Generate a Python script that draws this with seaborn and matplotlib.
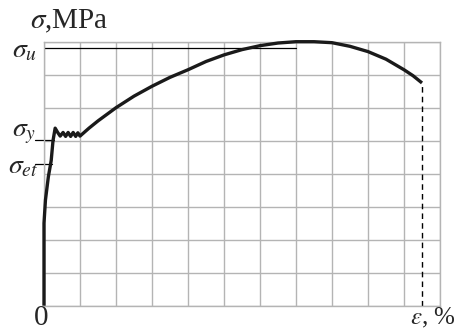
import numpy as np
import pandas as pd
import matplotlib
matplotlib.use("Agg")
import matplotlib.pyplot as plt
import seaborn as sns

# stress-strain curve in grid units (x: 11 cells, y: 8 cells)
strain = [0.0, 0.0, 0.04, 0.12, 0.2, 0.25, 0.31, 0.38, 0.45,
          0.53, 0.6, 0.67, 0.74, 0.81, 0.88, 0.94, 1.0,
          1.25, 1.5, 1.75, 2.0, 2.5, 3.0, 3.5, 4.0, 4.5, 5.0, 5.5, 6.0,
          6.5, 7.0, 7.5, 8.0, 8.5, 9.0, 9.5, 10.0, 10.25, 10.5]
stress = [0.0, 2.5, 3.2, 3.9, 4.4, 5.0, 5.38, 5.25, 5.14,
          5.25, 5.13, 5.25, 5.13, 5.25, 5.13, 5.24, 5.14,
          5.38, 5.6, 5.8, 6.0, 6.35, 6.65, 6.92, 7.15, 7.4, 7.6, 7.76, 7.88,
          7.96, 8.0, 8.0, 7.97, 7.86, 7.7, 7.47, 7.15, 6.97, 6.75]

sigma_u = 7.81
sigma_u_end = 7.0
sigma_y = 5.02
sigma_et = 4.3
rupture_strain = 10.5
rupture_stress = 6.75

curve = pd.DataFrame({"strain": strain, "stress": stress})

sns.set_style("white")
plt.rcParams["font.family"] = ["Liberation Serif", "DejaVu Serif"]
plt.rcParams["mathtext.fontset"] = "stix"

fig = plt.figure(figsize=(4.66, 3.31), dpi=100)
ax = fig.add_axes([44 / 466, 1 - 305.7 / 331, 396 / 466, 264 / 331])

grid_col = "#b4b4b4"
for gx in range(0, 12):
    ax.axvline(gx, color=grid_col, lw=1.0, zorder=0)
for gy in range(0, 9):
    ax.axhline(gy, color=grid_col, lw=1.0, zorder=0)

# estimator=None so the repeated x=0 points are kept as-is
sns.lineplot(data=curve, x="strain", y="stress", sort=False, estimator=None,
             color="#1a1a1a", lw=2.4, ax=ax, zorder=3, clip_on=False,
             solid_joinstyle="round", solid_capstyle="butt")

ax.plot([0, sigma_u_end], [sigma_u, sigma_u], color="black", lw=0.9)
ax.plot([-0.25, 0.27], [sigma_y, sigma_y], color="black", lw=0.9, clip_on=False)
ax.plot([-0.25, 0.22], [sigma_et, sigma_et], color="black", lw=0.9, clip_on=False)
ax.plot([rupture_strain, rupture_strain], [0, rupture_stress], color="black",
        lw=1.0, ls=(0, (4, 3)))

ax.set_xlim(0, 11)
ax.set_ylim(0, 8)
ax.set_xticks([])
ax.set_yticks([])
ax.set_xlabel("")
ax.set_ylabel("")
for sp in ax.spines.values():
    sp.set_color(grid_col)
    sp.set_linewidth(1.0)

ax.text(-0.4, 8.62, r"$\sigma$,MPa", fontsize=21, ha="left", va="center", clip_on=False)
ax.text(-0.88, 7.72, r"$\sigma_u$", fontsize=20, ha="left", va="center", clip_on=False)
ax.text(-0.88, 5.22, r"$\sigma_y$", fontsize=20, ha="left", va="center", clip_on=False)
ax.text(-0.99, 4.2, r"$\sigma_{et}$", fontsize=20, ha="left", va="center", clip_on=False)
ax.text(-0.08, -0.38, "0", fontsize=21, ha="center", va="center", clip_on=False)
ax.text(10.16, -0.36, r"$\varepsilon$, %", fontsize=18, ha="left", va="center", clip_on=False)

fig.savefig("out.png", dpi=100)
